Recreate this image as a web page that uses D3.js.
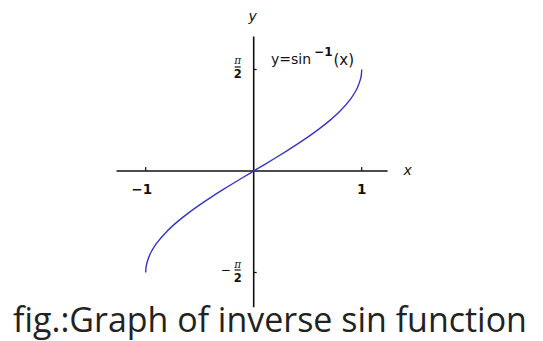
<!DOCTYPE html>
<html>
<head>
<meta charset="utf-8">
<script src="https://cdn.jsdelivr.net/npm/d3@7/dist/d3.min.js"></script>
<style>
  html, body { margin: 0; padding: 0; background: #fff; }
  svg { display: block; }
</style>
</head>
<body>
<svg id="chart" width="543" height="341"></svg>
<script>
// Sampled points of y = sin⁻¹(x)
const curveX = [-1, -0.998, -0.99, -0.96, -0.95, -0.9, -0.8, -0.7, -0.6, -0.5, -0.4, -0.3, -0.2, -0.1, 0,
                0.1, 0.2, 0.3, 0.4, 0.5, 0.6, 0.7, 0.8, 0.9, 0.95, 0.96, 0.99, 0.998, 1];
const curveY = [-1.5708, -1.5075, -1.4293, -1.2870, -1.2532, -1.1198, -0.9273, -0.7754, -0.6435, -0.5236, -0.4115, -0.3047, -0.2014, -0.1002, 0,
                0.1002, 0.2014, 0.3047, 0.4115, 0.5236, 0.6435, 0.7754, 0.9273, 1.1198, 1.2532, 1.2870, 1.4293, 1.5075, 1.5708];

const xTicks = [-1, 1];
const xTickLabels = ["\u22121", "1"];
const yTicks = [1.5708, -1.5708];
const yTickSigns = ["", "\u2212"];

const xAxisExtent = [-1.27, 1.24];
const yAxisExtent = [-2.11, 2.08];

const svg = d3.select("#chart");

const x = d3.scaleLinear().domain([-1, 1]).range([145.7, 361.7]);
const y = d3.scaleLinear().domain([-Math.PI / 2, Math.PI / 2]).range([272.5, 69.5]);

const axisColor = "#111";

// x axis line
svg.append("line")
  .attr("x1", x(xAxisExtent[0])).attr("x2", x(xAxisExtent[1]))
  .attr("y1", y(0)).attr("y2", y(0))
  .attr("stroke", axisColor).attr("stroke-width", 1.6);

// y axis line
svg.append("line")
  .attr("x1", x(0)).attr("x2", x(0))
  .attr("y1", y(yAxisExtent[0])).attr("y2", y(yAxisExtent[1]))
  .attr("stroke", axisColor).attr("stroke-width", 1.6);

// x ticks (pointing up)
svg.selectAll(".xtick").data(xTicks).enter().append("line")
  .attr("x1", d => x(d)).attr("x2", d => x(d))
  .attr("y1", y(0)).attr("y2", y(0) - 4)
  .attr("stroke", axisColor).attr("stroke-width", 1.2);

svg.selectAll(".xlabel").data(xTicks).enter().append("text")
  .attr("x", (d, i) => x(d) - (i === 0 ? 4 : 0))
  .attr("y", y(0) + 23)
  .attr("text-anchor", "middle")
  .attr("font-family", "DejaVu Sans, sans-serif")
  .attr("font-size", 13.5)
  .attr("font-weight", 600)
  .attr("fill", "#111")
  .text((d, i) => xTickLabels[i]);

// y ticks (pointing right)
svg.selectAll(".ytick").data(yTicks).enter().append("line")
  .attr("x1", x(0)).attr("x2", x(0) + 3)
  .attr("y1", d => y(d)).attr("y2", d => y(d))
  .attr("stroke", axisColor).attr("stroke-width", 1.2);

// y tick labels as stacked fractions π / 2
const yl = svg.selectAll(".ylabel").data(yTicks).enter().append("g")
  .attr("transform", d => `translate(${x(0) - 16},${y(d) - 2})`);
yl.append("text")
  .attr("x", 0).attr("y", -3)
  .attr("text-anchor", "middle")
  .attr("font-family", "DejaVu Serif, serif")
  .attr("font-style", "italic")
  .attr("font-size", 10.5)
  .attr("fill", "#111")
  .text("\u03c0");
yl.append("line")
  .attr("x1", -3).attr("x2", 3).attr("y1", -0.5).attr("y2", -0.5)
  .attr("stroke", "#111").attr("stroke-width", 1.2);
yl.append("text")
  .attr("x", 0).attr("y", 11)
  .attr("text-anchor", "middle")
  .attr("font-family", "DejaVu Sans, sans-serif")
  .attr("font-size", 11.5)
  .attr("font-weight", 600)
  .attr("fill", "#111")
  .text("2");
yl.filter((d, i) => yTickSigns[i] !== "").append("text")
  .attr("x", -12).attr("y", 3.5)
  .attr("text-anchor", "middle")
  .attr("font-family", "DejaVu Sans, sans-serif")
  .attr("font-size", 12)
  .attr("fill", "#111")
  .text((d, i) => yTickSigns[yTicks.indexOf(d)]);

// axis names
svg.append("text")
  .attr("x", x(0) - 1).attr("y", 21)
  .attr("text-anchor", "middle")
  .attr("font-family", "DejaVu Sans, sans-serif")
  .attr("font-style", "italic")
  .attr("font-size", 14)
  .attr("fill", "#111")
  .text("y");
svg.append("text")
  .attr("x", x(xAxisExtent[1]) + 20).attr("y", y(0) + 4)
  .attr("text-anchor", "middle")
  .attr("font-family", "DejaVu Sans, sans-serif")
  .attr("font-style", "italic")
  .attr("font-size", 14)
  .attr("fill", "#111")
  .text("x");

// curve
const pts = curveX.map((v, i) => [v, curveY[i]]);
svg.append("path")
  .datum(pts)
  .attr("fill", "none")
  .attr("stroke", "#3434c8")
  .attr("stroke-width", 1.4)
  .attr("d", d3.line().x(d => x(d[0])).y(d => y(d[1])).curve(d3.curveCatmullRom.alpha(0.5)));

// function label
const fl = svg.append("text")
  .attr("x", 271).attr("y", 64)
  .attr("font-family", "DejaVu Sans, sans-serif")
  .attr("font-size", 14)
  .attr("fill", "#111");
fl.append("tspan").text("y=sin");
fl.append("tspan").attr("dx", 3).attr("dy", -8).attr("font-size", 12).attr("font-weight", "bold").text("\u22121");
fl.append("tspan").attr("dx", 1).attr("dy", 9).attr("font-size", 15).text("(x)");

// caption
const cap = svg.append("text")
  .attr("x", 270).attr("y", 332)
  .attr("text-anchor", "middle")
  .attr("font-family", "Open Sans, DejaVu Sans, sans-serif")
  .attr("font-size", 24)
  .attr("fill", "#222")
  .text("fig.:Graph of inverse sin function");
const w = cap.node().getComputedTextLength();
cap.attr("font-size", 24 * 514 / w);
</script>
</body>
</html>
